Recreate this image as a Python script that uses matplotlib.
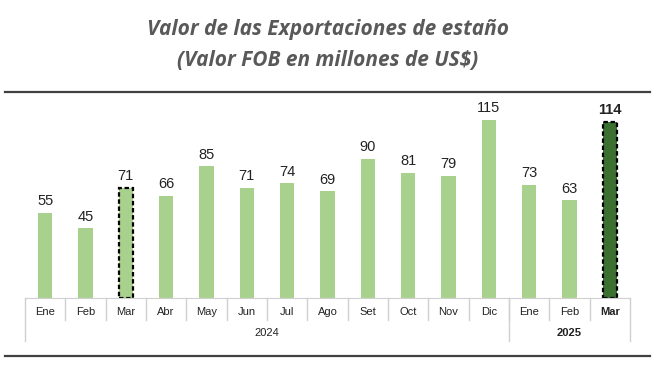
import matplotlib.pyplot as plt
from matplotlib.lines import Line2D

meses = ['Ene', 'Feb', 'Mar', 'Abr', 'May', 'Jun', 'Jul', 'Ago', 'Set', 'Oct', 'Nov', 'Dic',
         'Ene', 'Feb', 'Mar']
valores = [55, 45, 71, 66, 85, 71, 74, 69, 90, 81, 79, 115, 73, 63, 114]
anios = ['2024', '2025']
meses_por_anio = [12, 3]
resaltados = [2, 14]  # barras con borde punteado

verde = '#A9D18E'
verde_osc = '#3B7031'
gris = '#D0D0D0'

W, H = 658, 390
fig = plt.figure(figsize=(W / 100, H / 100), dpi=100)
x0, x1, yb, yt = 25, 630, 298, 100
ax = fig.add_axes([x0 / W, 1 - yb / H, (x1 - x0) / W, (yb - yt) / H])
ah = yb - yt

n = len(valores)
colores = [verde] * n
colores[-1] = verde_osc
bars = ax.bar(range(n), valores, width=0.35, color=colores, zorder=2)
for i in resaltados:
    bars[i].set_edgecolor('black')
    bars[i].set_linestyle((0, (2, 1.2)))
    bars[i].set_linewidth(1.6)

for i, v in enumerate(valores):
    ax.text(i, v + 3, str(v), ha='center', va='bottom', fontsize=10.5,
            family='Liberation Sans', color='#222222',
            fontweight='bold' if i == n - 1 else 'normal')

ax.set_xlim(-0.5, n - 0.5)
ax.set_ylim(0, ah / 1.548)
for s in ['top', 'right', 'left']:
    ax.spines[s].set_visible(False)
ax.spines['bottom'].set_color(gris)
ax.set_xticks([])
ax.set_yticks([])

tr = ax.get_xaxis_transform()
# etiquetas de meses
for i, m in enumerate(meses):
    ax.text(i, -14 / ah, m, ha='center', va='center', fontsize=8,
            family='Liberation Sans', transform=tr, color='#222222',
            fontweight='bold' if i == n - 1 else 'normal')
# divisores de meses
for k in range(1, n):
    ax.add_line(Line2D([k - 0.5, k - 0.5], [0, -22 / ah], transform=tr,
                       color=gris, lw=1, clip_on=False))
# divisores de años y etiquetas
pos = -0.5
ax.add_line(Line2D([pos, pos], [0, -43 / ah], transform=tr, color=gris, lw=1, clip_on=False))
for a, c in zip(anios, meses_por_anio):
    ax.text(pos + c / 2, -35 / ah, a, ha='center', va='center', fontsize=8,
            family='Liberation Sans', transform=tr, color='#222222',
            fontweight='bold' if a == '2025' else 'normal')
    pos += c
    ax.add_line(Line2D([pos, pos], [0, -43 / ah], transform=tr, color=gris, lw=1, clip_on=False))

# líneas horizontales de marco
for y in [92, 356]:
    fig.add_artist(Line2D([5 / W, 650 / W], [1 - y / H, 1 - y / H], color='#404040', lw=1.6))

fig.text(328 / W, 1 - 29 / H, 'Valor de las Exportaciones de estaño', ha='center', va='center',
         fontsize=15, fontweight='bold', style='italic', color='#595959', family='Open Sans')
fig.text(328 / W, 1 - 60 / H, '(Valor FOB en millones de US$)', ha='center', va='center',
         fontsize=15, fontweight='bold', style='italic', color='#595959', family='Open Sans')

fig.savefig('out.png', dpi=100)
